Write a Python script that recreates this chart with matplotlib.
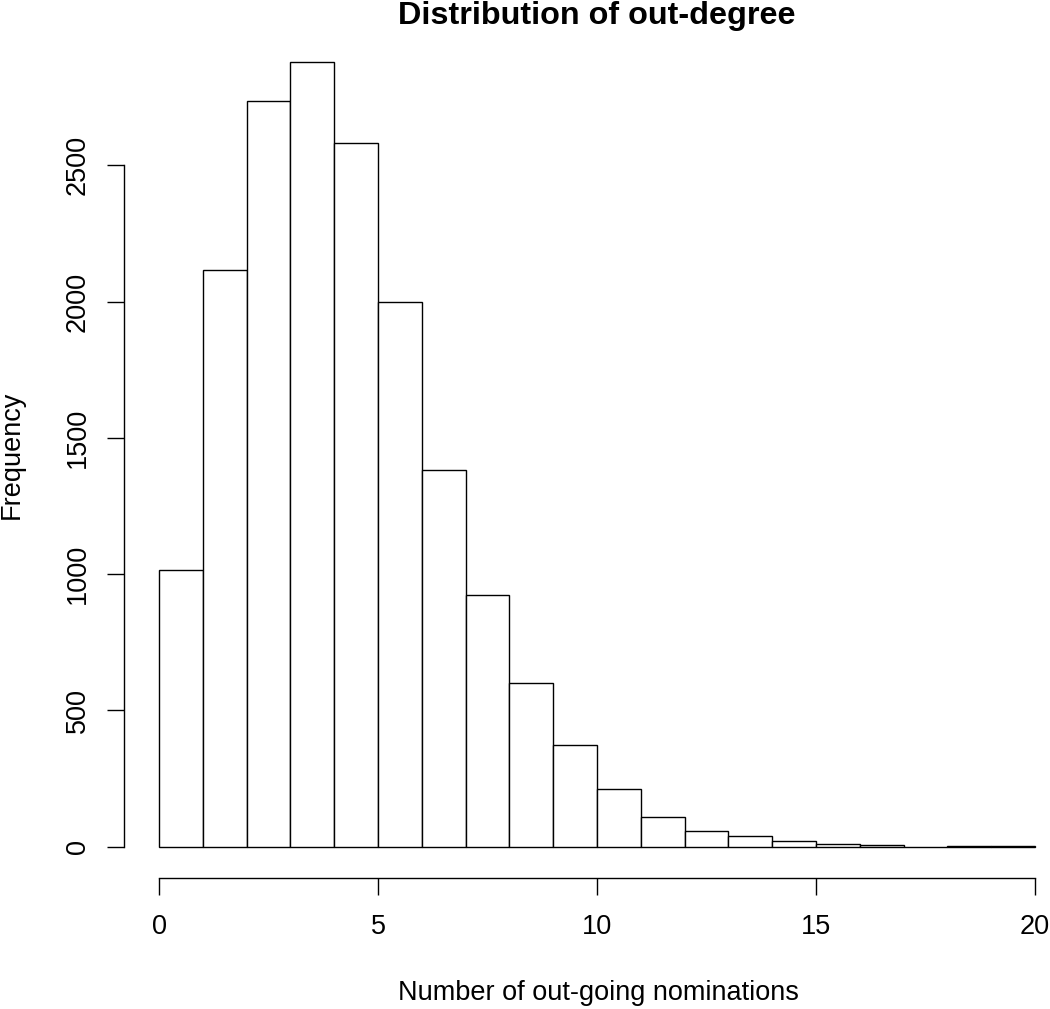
import numpy as np
import matplotlib
matplotlib.use("Agg")
import matplotlib.pyplot as plt

# histogram counts, one per unit bin
bin_edges = list(range(0, 21))
counts = [1015, 2115, 2735, 2878, 2581, 1998, 1382, 924, 601, 374,
          213, 110, 57, 38, 19, 8, 5, 0, 4, 1]
x_ticks = [0, 5, 10, 15, 20]
y_ticks = [0, 500, 1000, 1500, 2000, 2500]

plt.rcParams['font.family'] = ['Liberation Sans', 'DejaVu Sans']

W, H = 1050, 1009
fig = plt.figure(figsize=(W / 100, H / 100), dpi=100)
# plot region in pixels: left 124, right 1070, top 31, bottom 878
ax = fig.add_axes([124 / W, (H - 878) / H, 946 / W, 847 / H])

ax.bar(bin_edges[:-1], counts, width=1, align='edge',
       facecolor='white', edgecolor='black', linewidth=1.0)

# R style: 4% padding around data range, detached axes
ax.set_xlim(-0.8, 20.8)
ax.set_ylim(-0.04 * max(counts), 1.04 * max(counts))

for s in ['top', 'right']:
    ax.spines[s].set_visible(False)
ax.spines['left'].set_bounds(0, 2500)
ax.spines['bottom'].set_bounds(0, 20)
ax.spines['left'].set_linewidth(1.0)
ax.spines['bottom'].set_linewidth(1.0)

ax.set_xticks(x_ticks)
ax.set_yticks(y_ticks)
ax.set_yticklabels([str(v) for v in y_ticks], rotation=90, va='center')
ax.tick_params(axis='both', direction='out', length=12, width=1.0,
               labelsize=19.5)
ax.tick_params(axis='x', pad=14)
ax.tick_params(axis='y', pad=12)

fig.text(597 / W, 1 - 16 / H, 'Distribution of out-degree', ha='center',
         va='center', fontsize=23.3, fontweight='bold')
fig.text(598 / W, 1 - 993 / H, 'Number of out-going nominations', ha='center',
         va='center', fontsize=19.5)
fig.text(12 / W, 1 - 455 / H, 'Frequency', ha='center', va='center',
         rotation=90, fontsize=19.5)

fig.savefig('out.png', dpi=100)
